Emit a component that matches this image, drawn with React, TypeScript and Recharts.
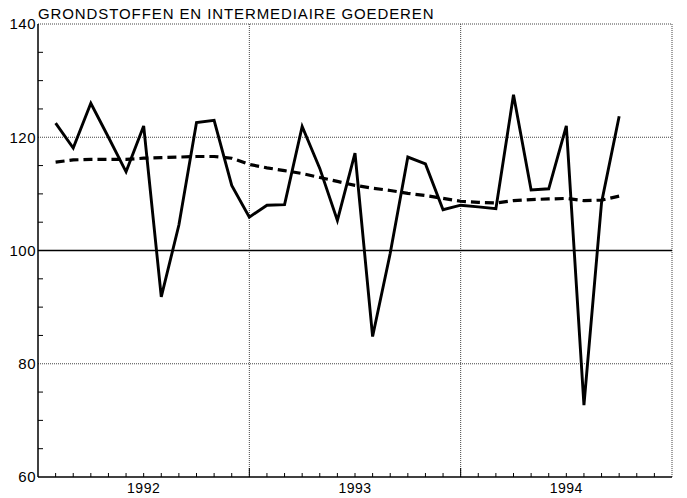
import React from 'react';
import { LineChart, Line, XAxis, YAxis, ReferenceLine } from 'recharts';

const title = 'GRONDSTOFFEN EN INTERMEDIAIRE GOEDEREN';
const months = [1, 2, 3, 4, 5, 6, 7, 8, 9, 10, 11, 12, 13, 14, 15, 16, 17, 18, 19, 20, 21, 22, 23, 24, 25, 26, 27, 28, 29, 30, 31, 32, 33];
const actual = [122.5, 118.1, 126.0, 120.0, 113.9, 122.0, 91.8, 104.5, 122.6, 123.0, 111.5, 105.9, 108.0, 108.1, 121.9, 114.5, 105.3, 117.2, 84.8, 99.5, 116.5, 115.3, 107.2, 108.0, 107.7, 107.4, 127.5, 110.7, 110.9, 122.0, 72.7, 108.5, 123.7];
const trend = [115.6, 116.0, 116.1, 116.1, 116.1, 116.3, 116.4, 116.5, 116.6, 116.6, 116.3, 115.2, 114.6, 114.1, 113.6, 112.9, 112.2, 111.5, 111.0, 110.6, 110.1, 109.7, 109.2, 108.7, 108.5, 108.4, 108.8, 109.0, 109.1, 109.2, 108.8, 108.9, 109.6];
const yearLabels = ['1992', '1993', '1994'];
const monthTicks = [0, 1, 2, 3, 4, 5, 6, 7, 8, 9, 10, 11, 12, 13, 14, 15, 16, 17, 18, 19, 20, 21, 22, 23, 24, 25, 26, 27, 28, 29, 30, 31, 32, 33, 34, 35, 36];
const yTicks = [60, 65, 70, 75, 80, 85, 90, 95, 100, 105, 110, 115, 120, 125, 130, 135, 140];
const yLabels = [60, 80, 100, 120, 140];
const yearBoundaries = [12, 24, 36];
const dottedLevels = [80, 120, 140];

const data = months.map((m, i) => ({ m, v: actual[i], t: trend[i] }));

const FONT = '"Liberation Sans", Arial, Helvetica, sans-serif';

const XTick = (props: any) => {
  const { x, y, payload } = props;
  const v = payload.value as number;
  const isYear = v % 12 === 0 && v > 0 && v < 36;
  const len = isYear ? 9 : 4;
  const yi = (v - 6) / 12;
  const label = Number.isInteger(yi) && yi >= 0 && yi < yearLabels.length ? yearLabels[yi] : null;
  return (
    <g>
      {v > 0 && v < 36 && <line x1={x} x2={x} y1={y} y2={y - len} stroke="#000" strokeWidth={1} />}
      {label && (
        <text x={x} y={y + 16} textAnchor="middle" fontFamily={FONT} fontSize={14} fill="#000" letterSpacing={0.5}>
          {label}
        </text>
      )}
    </g>
  );
};

const YTick = (props: any) => {
  const { x, y, payload } = props;
  const v = payload.value as number;
  const label = yLabels.includes(v);
  return (
    <g>
      {!label && <line x1={x} x2={x + 5} y1={y} y2={y} stroke="#000" strokeWidth={1} />}
      {label && (
        <text x={x - 2} y={y} dy="0.36em" textAnchor="end" fontFamily={FONT} fontSize={15} fill="#000" letterSpacing={0.5}>
          {v}
        </text>
      )}
    </g>
  );
};

export default function App() {
  return (
    <div style={{ position: 'absolute', left: 0, top: 0, width: 687, height: 498, background: '#fff' }}>
      <div
        style={{
          position: 'absolute',
          left: 38,
          top: 5,
          fontFamily: FONT,
          fontSize: 15,
          letterSpacing: 0.9,
          color: '#000',
          whiteSpace: 'nowrap',
          lineHeight: '18px',
        }}
      >
        {title}
      </div>
      <LineChart width={687} height={498} data={data} margin={{ top: 24, right: 15, bottom: 0, left: 0 }}>
        <XAxis
          dataKey="m"
          type="number"
          domain={[0, 36]}
          ticks={monthTicks}
          interval={0}
          tickLine={false}
          tickSize={0}
          tickMargin={0}
          tick={<XTick />}
          height={21}
          axisLine={{ stroke: '#000', strokeWidth: 1.5 }}
          allowDataOverflow
        />
        <YAxis
          type="number"
          domain={[60, 140]}
          ticks={yTicks}
          interval={0}
          tickLine={false}
          tickSize={0}
          tickMargin={0}
          tick={<YTick />}
          width={38}
          axisLine={{ stroke: '#000', strokeWidth: 1.5 }}
          allowDataOverflow
        />
        {dottedLevels.map((lv) => (
          <ReferenceLine key={'h' + lv} y={lv} stroke="#444" strokeWidth={1} strokeDasharray="1 1" />
        ))}
        {yearBoundaries.map((b) => (
          <ReferenceLine key={'v' + b} x={b} stroke="#444" strokeWidth={1} strokeDasharray="1 1" />
        ))}
        <ReferenceLine y={100} stroke="#000" strokeWidth={1.3} />
        <Line
          dataKey="t"
          type="linear"
          stroke="#000"
          strokeWidth={3.2}
          strokeDasharray="9 5"
          dot={false}
          isAnimationActive={false}
        />
        <Line dataKey="v" type="linear" stroke="#000" strokeWidth={2.9} dot={false} isAnimationActive={false} />
      </LineChart>
    </div>
  );
}
